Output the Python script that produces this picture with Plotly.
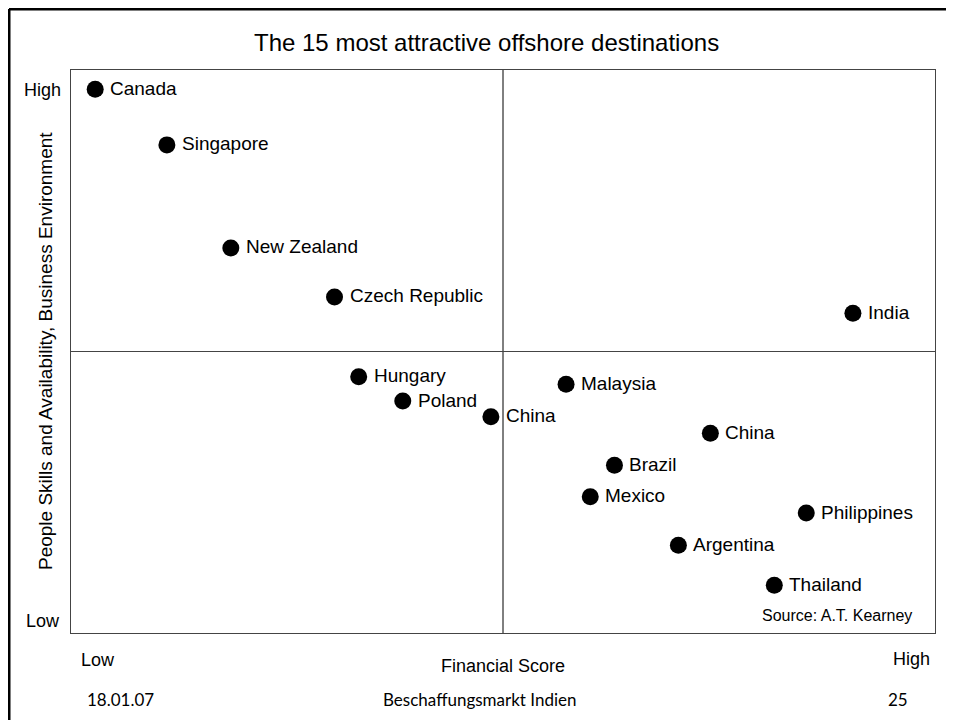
import plotly.graph_objects as go

countries = ["Canada", "Singapore", "New Zealand", "Czech Republic", "India",
             "Hungary", "Poland", "China", "Malaysia", "China",
             "Brazil", "Mexico", "Philippines", "Argentina", "Thailand"]
financial_score = [2.8, 11.1, 18.5, 30.5, 90.5,
                   33.3, 38.4, 48.6, 57.3, 74.0,
                   62.9, 60.1, 85.1, 70.3, 81.4]
people_business = [96.6, 86.7, 68.4, 59.7, 56.8,
                    45.5, 41.2, 38.4, 44.2, 35.5,
                    29.8, 24.2, 21.3, 15.6, 8.5]

title = "The 15 most attractive offshore destinations"
x_title = "Financial Score"
y_title = "People Skills and Availability, Business Environment"
footer_left, footer_mid, footer_right = "18.01.07", "Beschaffungsmarkt Indien", "25"
source = "Source: A.T. Kearney"

# page body has an 8px margin: figure origin sits at screen (8, 8)
OFF = 8
W, H = 954, 720
L, R, T, B = 71, 935, 70, 633   # plot box in screen pixels
pw, ph = R - L, B - T

def px(x):
    return (x - L) / pw

def py(y):
    return (B - y) / ph

fig = go.Figure(go.Scatter(
    x=financial_score, y=people_business,
    mode="markers", marker=dict(size=17, color="black"),
    cliponaxis=False, hoverinfo="skip"))

ax = dict(range=[0, 100], showgrid=False, zeroline=False, showticklabels=False,
          ticks="", showline=True, linecolor="#444", linewidth=1, mirror=True,
          fixedrange=True)
fig.update_xaxes(**ax)
fig.update_yaxes(**ax)

shapes = [
    dict(type="line", xref="x", yref="y", x0=50, x1=50, y0=0, y1=100,
         line=dict(color="black", width=1)),
    dict(type="line", xref="x", yref="y", x0=0, x1=100, y0=50, y1=50,
         line=dict(color="#444", width=1)),
    # slide frame
    dict(type="line", xref="paper", yref="paper", x0=px(9), x1=px(9),
         y0=py(9), y1=py(730), line=dict(color="black", width=3)),
    dict(type="line", xref="paper", yref="paper", x0=px(9), x1=px(970),
         y0=py(9), y1=py(9), line=dict(color="black", width=3)),
]

def ann(text, x, y, size, xanchor="center", family="Arial, Liberation Sans", angle=0):
    return dict(text=text, x=px(x), y=py(y), xref="paper", yref="paper",
                xanchor=xanchor, yanchor="middle", showarrow=False, textangle=angle,
                font=dict(family=family, size=size, color="black"))

annotations = [
    ann(title, 486, 42, 24),
    ann(y_title, 45, 351, 19, angle=-90),
    ann("High", 42, 90, 18),
    ann("Low", 43, 621, 18),
    ann("Low", 98, 660, 18),
    ann("High", 911, 659, 18),
    ann(x_title, 503, 666, 18),
    ann(source, 914, 615, 16, xanchor="right"),
    ann(footer_left, 120, 699, 17, family="Lato, Open Sans"),
    ann(footer_mid, 480, 699, 17, family="Lato, Open Sans"),
    ann(footer_right, 898, 699, 17, family="Lato, Open Sans"),
]

# point labels, placed from the data arrays
for name, xv, yv in zip(countries, financial_score, people_business):
    annotations.append(dict(text=name, x=xv, y=yv, xref="x", yref="y",
                            xanchor="left", yanchor="middle", xshift=13, yshift=1,
                            showarrow=False,
                            font=dict(family="Arial, Liberation Sans", size=19,
                                      color="black")))

fig.update_layout(width=W, height=H,
                  margin=dict(l=L - OFF, r=W - (R - OFF), t=T - OFF, b=H - (B - OFF), pad=0),
                  plot_bgcolor="white", paper_bgcolor="white", showlegend=False,
                  shapes=shapes, annotations=annotations)

fig.write_html("out.html")
